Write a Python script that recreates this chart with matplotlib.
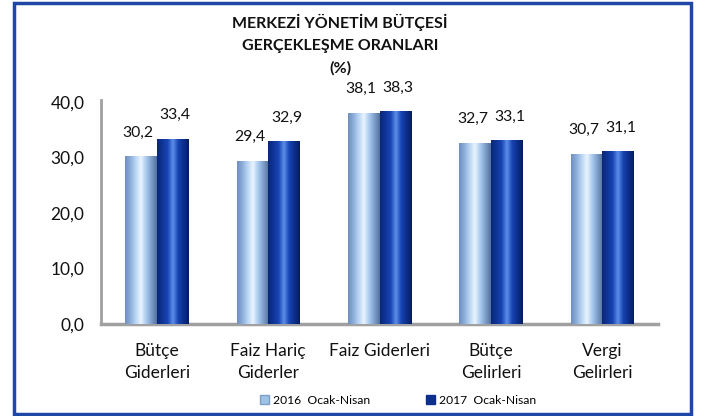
import matplotlib
matplotlib.use("Agg")
import matplotlib.pyplot as plt
import numpy as np
from matplotlib.colors import LinearSegmentedColormap
from matplotlib.patches import Rectangle, Patch

plt.rcParams['font.family'] = ['Lato', 'DejaVu Sans']

# data
categories = ["Bütçe\nGiderleri", "Faiz Hariç\nGiderler", "Faiz Giderleri",
              "Bütçe\nGelirleri", "Vergi\nGelirleri"]
values_2016 = [30.2, 29.4, 38.1, 32.7, 30.7]
values_2017 = [33.4, 32.9, 38.3, 33.1, 31.1]
series_names = ["2016  Ocak-Nisan", "2017  Ocak-Nisan"]
yticks = [0, 10, 20, 30, 40]

# cylinder-like shading for each series
light_cmap = LinearSegmentedColormap.from_list(
    "light", ["#6F8FBD", "#8EAFDB", "#B9D5F3", "#EAF5FF", "#A9C9EE", "#7E9FCB", "#55729F"])
dark_cmap = LinearSegmentedColormap.from_list(
    "dark", ["#0A2878", "#0F3597", "#1845B4", "#5E8FEA", "#1744B2", "#0C2F8C", "#061C62"])

fig = plt.figure(figsize=(7.06, 4.16), dpi=100)
ax = fig.add_axes([101 / 706, 1 - 324 / 416, 557 / 706, 224 / 416])

x = np.arange(len(categories))
w = 0.283
bars1 = ax.bar(x - w / 2, values_2016, w, color="#9DC3E6", zorder=2)
bars2 = ax.bar(x + w / 2, values_2017, w, color="#0D2F8F", zorder=2)

grad = np.linspace(0, 1, 64).reshape(1, -1)
for bars, cmap in ((bars1, light_cmap), (bars2, dark_cmap)):
    for b in bars:
        x0, y0 = b.get_x(), b.get_y()
        im = ax.imshow(grad, cmap=cmap, aspect="auto", zorder=3,
                       extent=[x0, x0 + b.get_width(), y0, y0 + b.get_height()])
        im.set_clip_path(b)

# value labels, nudged apart a little like the original
for bars, vals, nudge in ((bars1, values_2016, -0.025), (bars2, values_2017, 0.025)):
    for b, v in zip(bars, vals):
        ax.text(b.get_x() + b.get_width() / 2 + nudge, v + 3.0,
                f"{v:.1f}".replace(".", ","),
                ha="center", va="bottom", fontsize=11.3, color="#111111", zorder=4)

ax.set_xlim(-0.5, len(categories) - 0.5)
ax.set_ylim(0, 40.36)
ax.set_yticks(yticks)
ax.set_yticklabels([f"{t:.1f}".replace(".", ",") for t in yticks], fontsize=12.5)
ax.set_xticks(x)
ax.set_xticklabels(categories, fontsize=12.5, linespacing=1.45)
ax.tick_params(axis="both", length=0, colors="#111111")
ax.tick_params(axis="y", pad=12)
ax.tick_params(axis="x", pad=14)
for s in ("top", "right"):
    ax.spines[s].set_visible(False)
ax.spines["left"].set_color("#A0A0A0")
ax.spines["left"].set_linewidth(2)
ax.spines["bottom"].set_color("#A0A0A0")
ax.spines["bottom"].set_linewidth(2.5)

fig.text(340 / 706, 1 - 14 / 416, "MERKEZİ YÖNETİM BÜTÇESİ\nGERÇEKLEŞME ORANLARI\n(%)",
         ha="center", va="top", fontsize=11.5, fontweight="bold", linespacing=1.7,
         color="#111111")

handles = [Patch(facecolor="#9DC3E6", edgecolor="#7F9FC8"),
           Patch(facecolor="#0D2F8F", edgecolor="#0D2F8F")]
fig.legend(handles, series_names, loc="center", ncol=2, frameon=False,
           bbox_to_anchor=(398 / 706, 1 - 400 / 416), fontsize=8.7,
           handlelength=0.8, handleheight=0.8, handletextpad=0.3, columnspacing=4.6)

fig.patches.append(Rectangle((13.5 / 706, 2.5 / 416), 677 / 706, 411 / 416,
                             transform=fig.transFigure, fill=False,
                             edgecolor="#1F47A6", linewidth=2.5))

fig.savefig("out.png", dpi=100, facecolor="white")
